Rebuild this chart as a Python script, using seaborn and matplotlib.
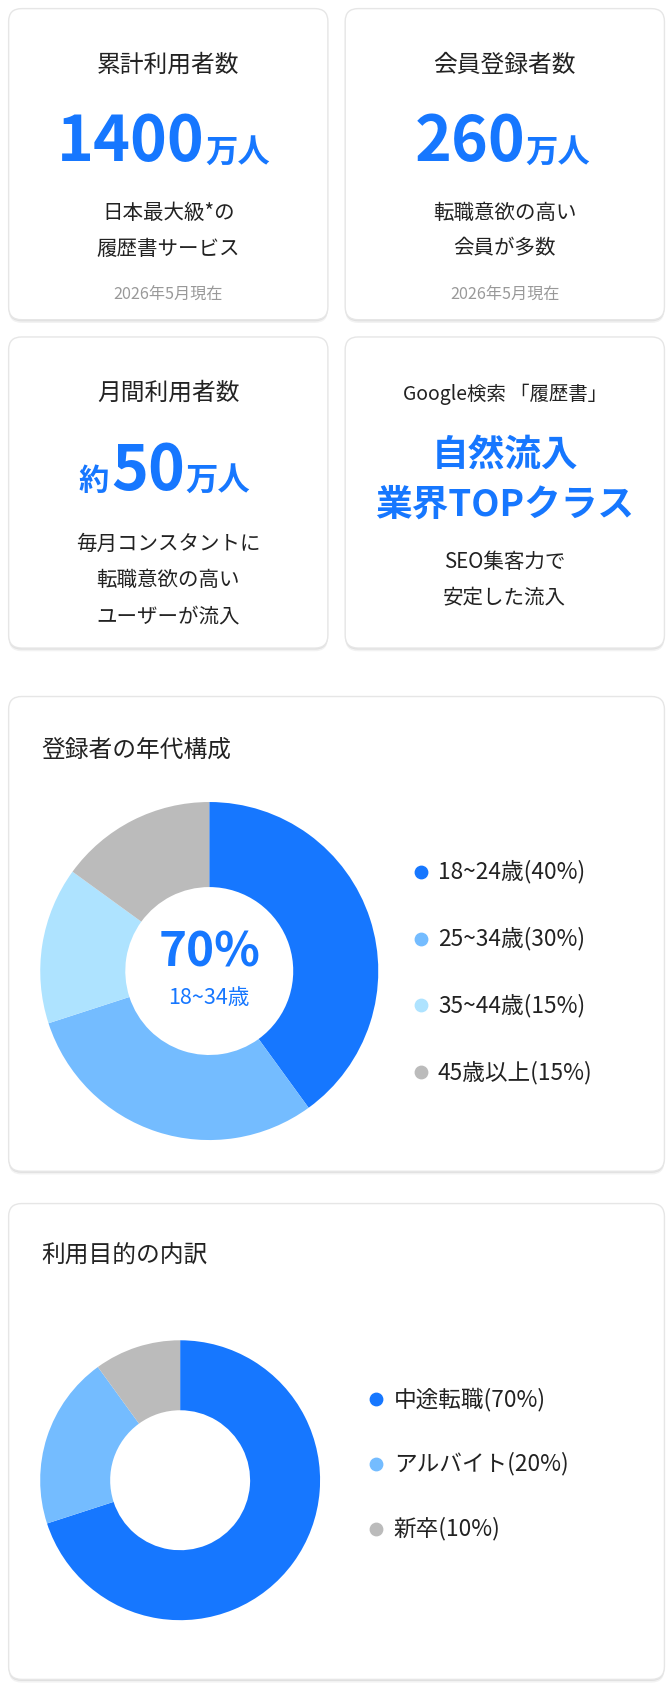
import matplotlib
matplotlib.use("Agg")
import matplotlib.pyplot as plt
import seaborn as sns
from matplotlib.patches import FancyBboxPatch

sns.set_theme(style="white")
plt.rcParams['font.family'] = ['Noto Sans CJK JP', 'DejaVu Sans']

BLUE = "#1677FF"
age_labels = ["18~24歳(40%)", "25~34歳(30%)", "35~44歳(15%)", "45歳以上(15%)"]
age_values = [40, 30, 15, 15]
age_colors = ["#1677FF", "#74BCFF", "#AEE3FF", "#BBBBBB"]
purpose_labels = ["中途転職(70%)", "アルバイト(20%)", "新卒(10%)"]
purpose_values = [70, 20, 10]
purpose_colors = ["#1677FF", "#74BCFF", "#BBBBBB"]

W, H = 623, 1568
fig = plt.figure(figsize=(6.72, 16.88), dpi=100)
ax = fig.add_axes([0, 0, 1, 1])
ax.set_xlim(0, W); ax.set_ylim(H, 0); ax.axis('off')
S = 0.777  # ref px -> pt

def card(x0, y0, x1, y1):
    for d, a in [(3, 0.05), (1.5, 0.07)]:
        ax.add_patch(FancyBboxPatch((x0, y0 + d), x1 - x0, y1 - y0, boxstyle="round,pad=0,rounding_size=12",
                                    fc="#000000", ec="none", alpha=a))
    ax.add_patch(FancyBboxPatch((x0, y0), x1 - x0, y1 - y0, boxstyle="round,pad=0,rounding_size=12",
                                fc="white", ec="#E6E6E6", lw=1))

def t(x, y, s, size, color="#222222", ha="center", va="center", weight="normal"):
    ax.text(x, y, s, fontsize=size * S, color=color, ha=ha, va=va, fontweight=weight)

card(8, 8, 304, 297); card(320, 8, 616, 297)
card(8, 313, 304, 602); card(320, 313, 616, 602)
card(8, 647, 616, 1088); card(8, 1118, 616, 1560)

# card 1
t(156, 61, "累計利用者数", 22)
t(190, 150, "1400", 58, BLUE, ha="right", va="baseline", weight="bold")
t(190, 150, "万人", 30, BLUE, ha="left", va="baseline", weight="bold")
t(156, 198, "日本最大級*の", 19)
t(156, 231, "履歴書サービス", 19)
t(156, 273, "2026年5月現在", 15, "#999999")
# card 2
t(468, 61, "会員登録者数", 22)
t(487, 150, "260", 58, BLUE, ha="right", va="baseline", weight="bold")
t(487, 150, "万人", 30, BLUE, ha="left", va="baseline", weight="bold")
t(468, 198, "転職意欲の高い", 19)
t(468, 231, "会員が多数", 19)
t(468, 273, "2026年5月現在", 15, "#999999")
# card 3
t(156, 365, "月間利用者数", 22)
t(101, 455, "約", 28, BLUE, ha="right", va="baseline", weight="bold")
t(172, 455, "50", 58, BLUE, ha="right", va="baseline", weight="bold")
t(172, 455, "万人", 30, BLUE, ha="left", va="baseline", weight="bold")
t(156, 505, "毎月コンスタントに", 19)
t(156, 539, "転職意欲の高い", 19)
t(156, 573, "ユーザーが流入", 19)
# card 4
t(468, 366, "Google検索 「履歴書」", 18)
t(468, 423, "自然流入", 34, BLUE, weight="bold")
t(468, 469, "業界TOPクラス", 34, BLUE, weight="bold")
t(468, 522, "SEO集客力で", 19)
t(468, 556, "安定した流入", 19)

t(38, 697, "登録者の年代構成", 22, ha="left")
t(38, 1167, "利用目的の内訳", 22, ha="left")

def donut(cx, cy, r, rin, vals, cols):
    pax = fig.add_axes([(cx - r) / W, 1 - (cy + r) / H, 2 * r / W, 2 * r / H])
    pax.pie(vals, colors=cols, startangle=90, counterclock=False,
            wedgeprops=dict(width=(r - rin) / r, edgecolor="none"), radius=1)
    pax.set_xlim(-1, 1); pax.set_ylim(-1, 1); pax.axis('off')

donut(194, 902, 157, 78, age_values, age_colors)
donut(167, 1375, 130, 65, purpose_values, purpose_colors)
t(194, 885, "70%", 44, BLUE, weight="bold")
t(194, 927, "18~34歳", 20, BLUE)

for i, (lab, c) in enumerate(zip(age_labels, age_colors)):
    y = 810 + 62 * i
    ax.scatter([390], [y], s=80, color=c, zorder=5)
    t(406, y, lab, 21, ha="left")
for i, (lab, c) in enumerate(zip(purpose_labels, purpose_colors)):
    y = 1300 + 60 * i
    ax.scatter([349], [y], s=80, color=c, zorder=5)
    t(365, y, lab, 21, ha="left")

fig.savefig("out.png", dpi=100, facecolor="white")
